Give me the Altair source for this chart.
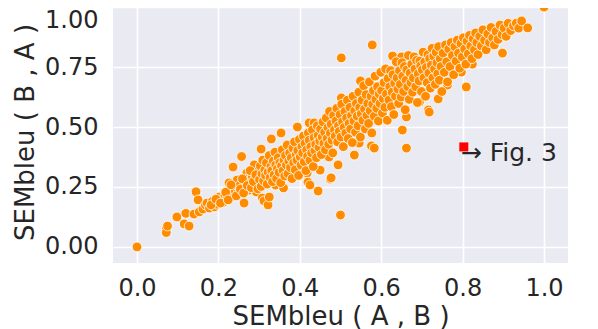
import altair as alt
import pandas as pd

# SEMbleu(A,B) (x) and SEMbleu(B,A) (y), in segments
x_low = [0.000, 0.072, 0.072, 0.075, 0.098, 0.116, 0.120, 0.128, 0.140, 0.145, 0.150, 0.153,
         0.162, 0.168, 0.172, 0.178, 0.185, 0.190, 0.196, 0.202, 0.207, 0.212, 0.216, 0.221,
         0.226, 0.229, 0.234, 0.236, 0.238, 0.241, 0.246, 0.249, 0.252, 0.257, 0.263, 0.265,
         0.268, 0.270, 0.273, 0.276, 0.279, 0.283, 0.288, 0.290, 0.293, 0.296, 0.298,
         0.182, 0.194, 0.205, 0.218, 0.224, 0.231, 0.244, 0.254, 0.259, 0.262, 0.271, 0.278,
         0.281, 0.286, 0.292, 0.297]
y_low = [0.000, 0.075, 0.060, 0.087, 0.125, 0.096, 0.140, 0.087, 0.137, 0.230, 0.196, 0.146,
         0.158, 0.175, 0.183, 0.162, 0.190, 0.167, 0.178, 0.208, 0.195, 0.186, 0.215, 0.202,
         0.267, 0.224, 0.246, 0.333, 0.212, 0.236, 0.279, 0.228, 0.255, 0.377, 0.183, 0.262,
         0.241, 0.308, 0.285, 0.237, 0.268, 0.296, 0.342, 0.283, 0.229, 0.312, 0.258,
         0.175, 0.199, 0.183, 0.228, 0.196, 0.259, 0.213, 0.241, 0.284, 0.225, 0.256, 0.318,
         0.247, 0.272, 0.301, 0.242]

# points lying away from the main band
x_out = [0.305, 0.308, 0.312, 0.322, 0.325, 0.330, 0.340, 0.354, 0.360, 0.376, 0.394, 0.418,
         0.420, 0.423, 0.425, 0.435, 0.445, 0.450, 0.470, 0.472, 0.475, 0.477, 0.494, 0.500,
         0.502, 0.502, 0.534, 0.546, 0.549, 0.576, 0.578, 0.583, 0.610, 0.628, 0.637, 0.650,
         0.652, 0.662, 0.662, 0.694, 0.716, 0.718, 0.740, 0.763, 0.797, 0.809, 0.824, 0.898,
         1.000]
y_out = [0.408, 0.204, 0.192, 0.175, 0.208, 0.450, 0.258, 0.475, 0.246, 0.296, 0.500, 0.308,
         0.270, 0.517, 0.258, 0.517, 0.233, 0.320, 0.375, 0.375, 0.283, 0.288, 0.342, 0.133,
         0.788, 0.621, 0.383, 0.433, 0.692, 0.421, 0.842, 0.412, 0.733, 0.796, 0.767, 0.792,
         0.487, 0.542, 0.412, 0.604, 0.571, 0.562, 0.617, 0.675, 0.729, 0.667, 0.762, 0.808,
         1.000]

x_b = [0.301, 0.303, 0.305, 0.307, 0.309, 0.311, 0.314, 0.316, 0.318, 0.320, 0.322, 0.325,
       0.327, 0.329, 0.331, 0.333, 0.335, 0.337, 0.339, 0.341, 0.343, 0.345, 0.347, 0.349,
       0.351, 0.353, 0.355, 0.357, 0.359, 0.361, 0.363, 0.365, 0.367, 0.369, 0.371, 0.373,
       0.375, 0.377, 0.379, 0.381, 0.383, 0.385, 0.387, 0.389, 0.391, 0.393, 0.395, 0.397,
       0.399, 0.401, 0.403, 0.405, 0.407, 0.409, 0.411, 0.413, 0.415, 0.417, 0.419, 0.421,
       0.423, 0.425, 0.427, 0.429, 0.431, 0.433, 0.435, 0.437, 0.439, 0.441, 0.443, 0.445,
       0.447, 0.449]
y_b = [0.281, 0.338, 0.252, 0.305, 0.362, 0.276, 0.321, 0.298, 0.351, 0.262, 0.312, 0.381,
       0.289, 0.336, 0.318, 0.272, 0.358, 0.301, 0.395, 0.342, 0.285, 0.326, 0.372, 0.311,
       0.352, 0.268, 0.338, 0.405, 0.318, 0.362, 0.296, 0.381, 0.342, 0.425, 0.305, 0.358,
       0.392, 0.331, 0.372, 0.285, 0.412, 0.351, 0.438, 0.322, 0.385, 0.362, 0.402, 0.298,
       0.448, 0.375, 0.341, 0.418, 0.392, 0.462, 0.355, 0.432, 0.318, 0.405, 0.378, 0.475,
       0.445, 0.361, 0.418, 0.392, 0.488, 0.335, 0.455, 0.402, 0.428, 0.372, 0.505, 0.465,
       0.415, 0.442]

x_c = [0.451, 0.453, 0.455, 0.457, 0.459, 0.461, 0.463, 0.465, 0.467, 0.469, 0.471, 0.473,
       0.475, 0.477, 0.479, 0.481, 0.483, 0.485, 0.487, 0.489, 0.491, 0.493, 0.495, 0.497,
       0.499, 0.501, 0.503, 0.505, 0.507, 0.509, 0.511, 0.513, 0.515, 0.517, 0.519, 0.521,
       0.523, 0.525, 0.527, 0.529, 0.531, 0.533, 0.535, 0.537, 0.539, 0.541, 0.543, 0.545,
       0.547, 0.549, 0.551, 0.553, 0.555, 0.557, 0.559, 0.561, 0.563, 0.565, 0.567, 0.569,
       0.571, 0.573, 0.575, 0.577, 0.579, 0.581, 0.583, 0.585, 0.587, 0.589, 0.591, 0.593,
       0.595, 0.597, 0.599]
y_c = [0.492, 0.385, 0.458, 0.521, 0.432, 0.478, 0.405, 0.538, 0.452, 0.498, 0.428, 0.565,
       0.475, 0.512, 0.445, 0.392, 0.548, 0.488, 0.462, 0.525, 0.578, 0.438, 0.505, 0.482,
       0.552, 0.458, 0.595, 0.522, 0.418, 0.498, 0.565, 0.475, 0.538, 0.612, 0.452, 0.515,
       0.582, 0.492, 0.548, 0.435, 0.628, 0.525, 0.568, 0.478, 0.598, 0.545, 0.505, 0.645,
       0.582, 0.458, 0.555, 0.612, 0.528, 0.672, 0.575, 0.492, 0.635, 0.548, 0.598, 0.515,
       0.688, 0.568, 0.628, 0.475, 0.595, 0.652, 0.545, 0.712, 0.615, 0.578, 0.668, 0.525,
       0.638, 0.598, 0.728]

x_d = [0.601, 0.603, 0.605, 0.607, 0.609, 0.611, 0.613, 0.615, 0.617, 0.619, 0.621, 0.623,
       0.625, 0.627, 0.629, 0.631, 0.633, 0.635, 0.637, 0.639, 0.641, 0.643, 0.645, 0.647,
       0.649, 0.651, 0.653, 0.655, 0.657, 0.659, 0.661, 0.663, 0.665, 0.667, 0.669, 0.671,
       0.673, 0.675, 0.677, 0.679, 0.681, 0.683, 0.685, 0.687, 0.689, 0.691, 0.693, 0.695,
       0.697, 0.699, 0.701, 0.703, 0.705, 0.707, 0.709, 0.711, 0.713, 0.715, 0.717, 0.719,
       0.721, 0.723, 0.725, 0.727, 0.729, 0.731, 0.733, 0.735, 0.737, 0.739, 0.741, 0.743,
       0.745, 0.747, 0.749]
y_d = [0.652, 0.558, 0.618, 0.685, 0.582, 0.742, 0.638, 0.528, 0.702, 0.612, 0.668, 0.735,
       0.585, 0.645, 0.718, 0.552, 0.682, 0.628, 0.772, 0.705, 0.658, 0.598, 0.735, 0.678,
       0.625, 0.768, 0.712, 0.648, 0.752, 0.572, 0.695, 0.738, 0.668, 0.798, 0.615, 0.725,
       0.685, 0.762, 0.645, 0.705, 0.792, 0.742, 0.668, 0.778, 0.602, 0.722, 0.692, 0.775,
       0.755, 0.648, 0.738, 0.812, 0.705, 0.772, 0.628, 0.748, 0.685, 0.802, 0.725, 0.785,
       0.662, 0.758, 0.828, 0.705, 0.795, 0.742, 0.678, 0.812, 0.768, 0.722, 0.835, 0.695,
       0.785, 0.752, 0.648]

x_e = [0.752, 0.755, 0.758, 0.761, 0.763, 0.766, 0.769, 0.772, 0.775, 0.778, 0.781, 0.784,
       0.787, 0.790, 0.793, 0.796, 0.799, 0.802, 0.805, 0.808, 0.811, 0.814, 0.817, 0.820,
       0.823, 0.826, 0.829, 0.832, 0.835, 0.838, 0.842, 0.846, 0.850, 0.854, 0.858, 0.862,
       0.866, 0.870, 0.874, 0.878, 0.882, 0.887, 0.892, 0.897, 0.902, 0.907, 0.912, 0.918,
       0.925, 0.932, 0.938, 0.945, 0.960]
y_e = [0.808, 0.728, 0.842, 0.772, 0.688, 0.825, 0.752, 0.852, 0.798, 0.718, 0.835, 0.775,
       0.862, 0.808, 0.745, 0.848, 0.792, 0.872, 0.825, 0.762, 0.858, 0.805, 0.882, 0.838,
       0.785, 0.868, 0.822, 0.892, 0.852, 0.802, 0.878, 0.838, 0.905, 0.862, 0.822, 0.888,
       0.852, 0.915, 0.872, 0.842, 0.898, 0.865, 0.925, 0.885, 0.912, 0.878, 0.932, 0.902,
       0.922, 0.933, 0.912, 0.942, 0.913]

# highlighted example
mark_x = [0.803]
mark_y = [0.417]
mark_label = ["→ Fig. 3"]

x_ticks = [0.0, 0.2, 0.4, 0.6, 0.8, 1.0]
y_ticks = [0.0, 0.25, 0.5, 0.75, 1.0]

xa = x_low + x_out + x_b + x_c + x_d + x_e
ya = y_low + y_out + y_b + y_c + y_d + y_e
df = pd.DataFrame({"x": xa, "y": ya})
hl = pd.DataFrame({"x": mark_x, "y": mark_y, "label": mark_label})

FONT = "DejaVu Sans"
TXT = "#262626"

xscale = alt.Scale(domain=[-0.059, 1.059], nice=False, zero=False)
yscale = alt.Scale(domain=[-0.067, 1.067], nice=False, zero=False)

xaxis = alt.Axis(values=x_ticks, format=".1f", title="SEMbleu ( A , B )",
                 grid=True, gridColor="white", gridWidth=1.6, domain=False,
                 ticks=False, labelPadding=13, titlePadding=3,
                 labelFont=FONT, labelFontSize=24, labelColor=TXT,
                 titleFont=FONT, titleFontSize=26, titleColor=TXT, titleFontWeight="normal")
yaxis = alt.Axis(values=y_ticks, format=".2f", title="SEMbleu ( B , A )",
                 grid=True, gridColor="white", gridWidth=1.6, domain=False,
                 ticks=False, labelPadding=15, titlePadding=6, titleY=141,
                 labelOffset={"condition": {"test": "datum.value >= 1", "value": 13}, "value": 0},
                 labelFont=FONT, labelFontSize=24, labelColor=TXT,
                 titleFont=FONT, titleFontSize=26, titleColor=TXT, titleFontWeight="normal")

pts = alt.Chart(df).mark_circle(size=95, color="#FF8C00", stroke="white",
                                strokeWidth=0.8, opacity=1).encode(
    x=alt.X("x:Q", scale=xscale, axis=xaxis),
    y=alt.Y("y:Q", scale=yscale, axis=yaxis),
)

sq = alt.Chart(hl).mark_square(size=81, color="#FF0000", opacity=1).encode(
    x=alt.X("x:Q", scale=xscale),
    y=alt.Y("y:Q", scale=yscale),
)

txt = alt.Chart(hl).mark_text(align="left", baseline="middle", font=FONT,
                              fontSize=25, color=TXT, dx=-3, dy=6).encode(
    x=alt.X("x:Q", scale=xscale),
    y=alt.Y("y:Q", scale=yscale),
    text="label:N",
)

chart = alt.layer(pts, sq, txt).properties(
    width=455, height=272,
    autosize=alt.AutoSizeParams(type="none"),
    padding={"left": 105, "top": -17, "right": 20, "bottom": 66},
).configure_view(fill="#EAEAF2", stroke=None)

chart.save("out.html", embed_options={"renderer": "svg", "actions": False})
